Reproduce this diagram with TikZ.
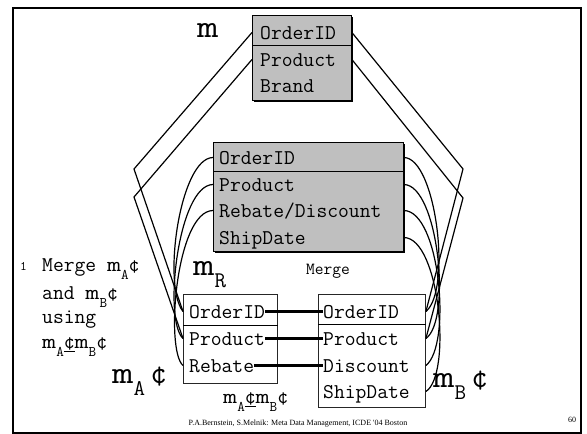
\documentclass[tikz,border=0pt]{standalone}
\usepackage{fontspec}
\usepackage{graphicx}
\newfontfamily\footfont{Liberation Serif}
\usetikzlibrary{positioning, shadows}

\newcommand{\wm}{\scalebox{1.3}[1]{m}}
\newcommand{\dn}[1]{\raisebox{-0.4em}{\scalebox{0.7}{#1}}}

\begin{document}
\begin{tikzpicture}[
  x=1pt, y=-1pt,
  graybox/.style={
    rectangle,
    draw=black,
    line width=0.9pt,
    fill=black!25,
    drop shadow={opacity=1, fill=black, shadow xshift=2pt, shadow yshift=-2pt},
    anchor=north west,
    inner sep=0pt
  },
  whitebox/.style={
    rectangle,
    draw=black!85,
    line width=0.9pt,
    fill=white,
    anchor=north west,
    inner sep=0pt
  },
  field/.style={
    anchor=base west,
    inner sep=0pt,
    text height=13pt,
    text depth=0pt,
    font=\fontsize{21}{24}\selectfont\ttfamily
  },
  bigname/.style={anchor=base west, inner sep=0pt, font=\fontsize{32}{34}\selectfont\ttfamily},
  note/.style={anchor=base west, inner sep=0pt, font=\fontsize{21}{24}\selectfont\ttfamily},
  footer/.style={anchor=base, inner sep=0pt, font=\fontsize{8}{9}\selectfont\footfont},
  sep/.style={draw=black, line width=0.9pt},
  map/.style={draw=black, line width=1.2pt},
  link/.style={draw=black, line width=2.4pt}
]
\useasboundingbox (0,0) rectangle (587,434);
\draw[line width=2pt] (13,8) rectangle (581,433);

% mapping m
\node[graybox, minimum width=99pt, minimum height=85pt] (m) at (252,15) {};
\draw[sep] ([yshift=-30pt]m.north west) -- ([yshift=-30pt]m.north east);
\node[field] (mOrd) at (260,39) {OrderID};
\node[field] (mProd) at (260,66) {Product};
\node[field] (mBrand) at (260,92) {Brand};

% merge result m_R
\node[graybox, minimum width=190pt, minimum height=109pt] (r) at (213,142) {};
\draw[sep] ([yshift=-29pt]r.north west) -- ([yshift=-29pt]r.north east);
\node[field] (rOrd) at (219,164) {OrderID};
\node[field] (rProd) at (219,191) {Product};
\node[field] (rDisc) at (219,217) {Rebate/Discount};
\node[field] (rShip) at (219,244) {ShipDate};

% m_A
\node[whitebox, minimum width=94pt, minimum height=89pt] (a) at (183,294) {};
\draw[sep] ([yshift=-31pt]a.north west) -- ([yshift=-31pt]a.north east);
\node[field] (aOrd) at (189,318) {OrderID};
\node[field] (aProd) at (189,345) {Product};
\node[field] (aReb) at (189,372) {Rebate};

% m_B
\node[whitebox, minimum width=107pt, minimum height=113pt] (b) at (318,294) {};
\draw[sep] ([yshift=-30pt]b.north west) -- ([yshift=-30pt]b.north east);
\node[field] (bOrd) at (323,318) {OrderID};
\node[field] (bProd) at (323,345) {Product};
\node[field] (bDisc) at (323,372) {Discount};
\node[field] (bShip) at (323,398) {ShipDate};

% names
\node[bigname] (mName) at (197,37) {\wm};
\node[bigname] (rName) at (193,275) {\wm\dn{R}};
\node[bigname] (aName) at (112,383) {\wm\dn{A}\,¢};
\node[bigname] (bName) at (433,387) {\wm\dn{B}\,¢};
\node[anchor=base west, inner sep=0pt, font=\fontsize{17}{19}\selectfont\ttfamily] (mergeName) at (306,274) {Merge};
\node[note] (abName) at (223,403) {\wm\dn{A}\underline{¢}\wm\dn{B}¢};

% side note
\node[anchor=base west, inner sep=0pt, font=\fontsize{13}{15}\selectfont\ttfamily] (noteNum) at (20,270) {1};
\node[note] (note1) at (42,271) {Merge \wm\dn{A}¢};
\node[note] (note2) at (42,299) {and \wm\dn{B}¢};
\node[note] (note3) at (42,323) {using};
\node[note] (note4) at (42,348) {\wm\dn{A}\underline{¢}\wm\dn{B}¢};

% bends
\coordinate (lBend1) at (134,169);
\coordinate (lBend2) at (134,197);
\coordinate (rBend1) at (463,169);
\coordinate (rBend2) at (463,198);

% m to m_A and m_B
\draw[map] (mOrd.west -| m.west) -- (lBend1) -- (aOrd.west -| a.west);
\draw[map] (mProd.west -| m.west) -- (lBend2) -- (aProd.west -| a.west);
\draw[map] (mOrd.west -| m.east) -- (rBend1) -- (bOrd.west -| b.east);
\draw[map] (mProd.west -| m.east) -- (rBend2) -- (bProd.west -| b.east);

% m_R to m_A
\draw[map] (rOrd.west -| r.west) .. controls (180,158) and (162,285) .. (aOrd.west -| a.west);
\draw[map] (rProd.west -| r.west) .. controls (178,185) and (163,320) .. (aProd.west -| a.west);
\draw[map] (rDisc.west -| r.west) .. controls (176,211) and (165,350) .. (aReb.west -| a.west);

% m_R to m_B
\draw[map] (rOrd.west -| r.east) .. controls (436,158) and (452,290) .. (bOrd.west -| b.east);
\draw[map] (rProd.west -| r.east) .. controls (438,185) and (452,320) .. (bProd.west -| b.east);
\draw[map] (rDisc.west -| r.east) .. controls (440,211) and (452,345) .. (bDisc.west -| b.east);
\draw[map] (rShip.west -| r.east) .. controls (440,238) and (452,375) .. (bShip.west -| b.east);

% m_A to m_B
\draw[link] (aOrd.east) -- (bOrd.west);
\draw[link] (aProd.east) -- (bProd.west);
\draw[link] (aReb.east) -- (bDisc.west);

\node[footer] (credit) at (298,425) {P.A.Bernstein, S.Melnik: Meta Data Management, ICDE '04 Boston};
\node[footer] (pageNo) at (572,422) {60};
\end{tikzpicture}
\end{document}
